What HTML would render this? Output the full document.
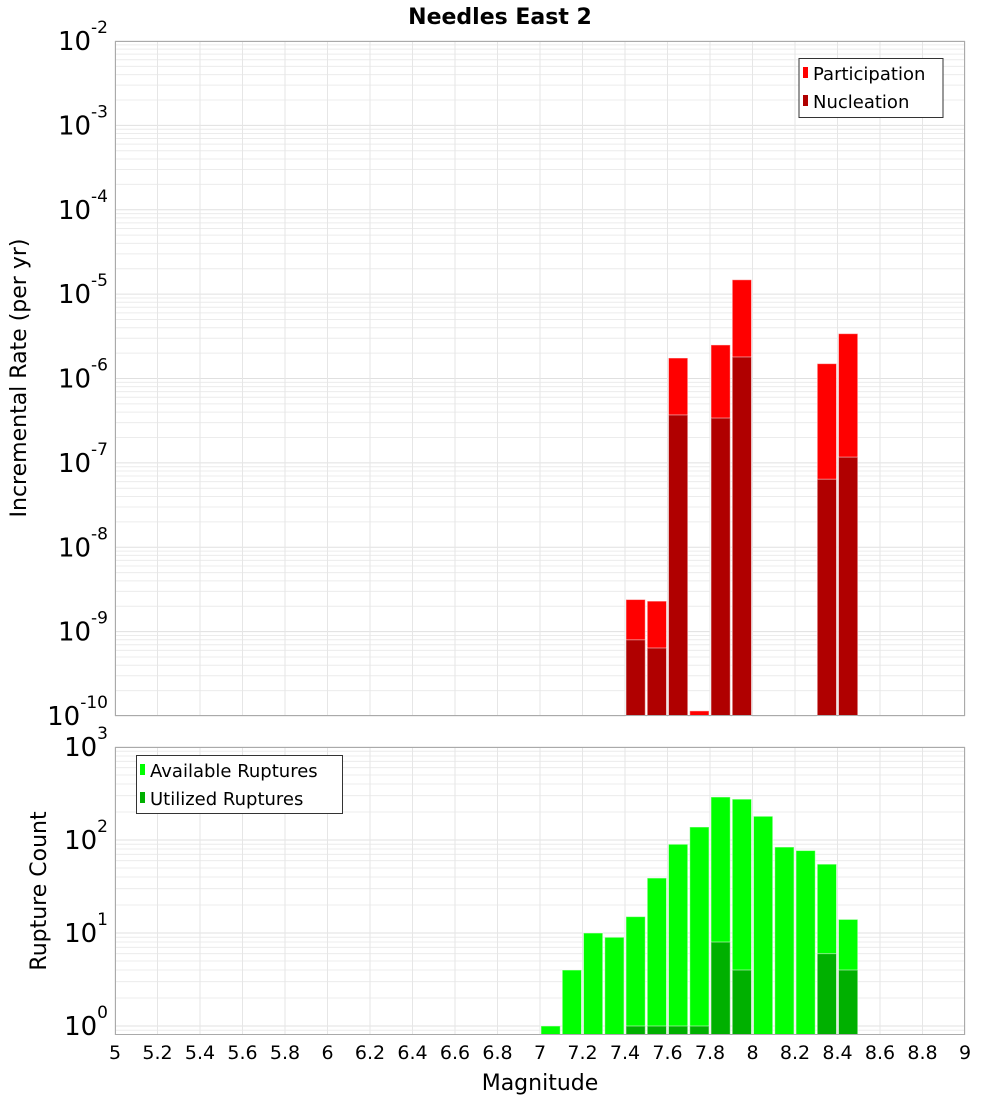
<!DOCTYPE html>
<html><head><meta charset="utf-8"><style>
html,body{margin:0;padding:0;background:#fff;}
svg{display:block;font-family:"DejaVu Sans","Liberation Sans",sans-serif;}
</style></head><body>
<svg id="chart" width="1000" height="1100" viewBox="0 0 1000 1100" xmlns="http://www.w3.org/2000/svg">
<text x="500" y="24" text-anchor="middle" font-size="22" font-weight="bold">Needles East 2</text>
<g id="topPanel"></g>
<g id="botPanel"></g>
<text transform="translate(26,378) rotate(-90)" text-anchor="middle" font-size="22">Incremental Rate (per yr)</text>
<text transform="translate(46,891) rotate(-90)" text-anchor="middle" font-size="22">Rupture Count</text>
<text x="540" y="1090" text-anchor="middle" font-size="22">Magnitude</text>
<g>
<rect x="799" y="58.5" width="144" height="59" fill="#fff" stroke="#333" stroke-width="1"/>
<rect x="803" y="67" width="5" height="11" fill="#ff0000"/>
<text x="813" y="80" font-size="18">Participation</text>
<rect x="803" y="95" width="5" height="11" fill="#b00000"/>
<text x="813" y="108" font-size="18">Nucleation</text>
</g>
<g>
<rect x="136.5" y="755.5" width="206" height="58" fill="#fff" stroke="#333" stroke-width="1"/>
<rect x="140" y="764" width="5" height="11" fill="#00ff00"/>
<text x="150" y="777" font-size="18">Available Ruptures</text>
<rect x="140" y="792" width="5" height="11" fill="#00b000"/>
<text x="150" y="805" font-size="18">Utilized Ruptures</text>
</g>
</svg>
<script>
const binStarts = [7.0,7.1,7.2,7.3,7.4,7.5,7.6,7.7,7.8,7.9,8.0,8.1,8.2,8.3,8.4];
const available = [1,4,10,9,15,39,90,138,290,275,180,84,77,55,14];
const utilized  = [0,0,0,0,1,1,1,1,8,4,0,0,0,6,4];
const rateBins = [7.4,7.5,7.6,7.7,7.8,7.9,8.3,8.4];
const participation = [2.4e-9,2.3e-9,1.75e-6,1.15e-10,2.5e-6,1.48e-5,1.5e-6,3.4e-6];
const nucleation    = [8e-10,6.4e-10,3.7e-7,0,3.4e-7,1.8e-6,6.4e-8,1.17e-7];
const xTicks = [5,5.2,5.4,5.6,5.8,6,6.2,6.4,6.6,6.8,7,7.2,7.4,7.6,7.8,8,8.2,8.4,8.6,8.8,9];
const topExps = [-2,-3,-4,-5,-6,-7,-8,-9,-10];
const botExps = [0,1,2,3];

const NS="http://www.w3.org/2000/svg";
const X0=115,X1=965;
const xs=m=>X0+(m-5)*(X1-X0)/4;
const yTop=v=>41+(-2-Math.log10(v))*84.375;
const yBot=v=>1026-93*Math.log10(v);
function mk(parent,tag,attrs){const e=document.createElementNS(NS,tag);for(const k in attrs)e.setAttribute(k,attrs[k]);parent.appendChild(e);return e;}

function panel(g,yT,yB,yf,loLog,hiLog){
  for(let d=Math.floor(loLog);d<=hiLog;d++){
    for(let k=1;k<10;k++){
      const v=k*Math.pow(10,d);const y=yf(v);
      if(y<yT||y>yB)continue;
      const l=mk(g,'line',{x1:X0,x2:X1,y1:y,y2:y,stroke:k===1?'#e0e0e0':'#ececec','stroke-width':1});
      
      
    }
  }
  xTicks.forEach(t=>{const x=xs(t);
    const l=mk(g,'line',{x1:x,x2:x,y1:yT,y2:yB,stroke:'#e6e6e6','stroke-width':1});
    
    
  });
}
function frame(g,yT,yB){
  const r=mk(g,'rect',{x:X0+0.5,y:yT+0.5,width:X1-X0-1,height:yB-yT-1,fill:'none',stroke:'#aaaaaa','stroke-width':1});
  
  
}
function bar(g,m,v,yf,yB,color,name){
  if(!(v>0))return;
  const x=xs(m)+1,w=xs(m+0.1)-xs(m)-2,y=Math.max(yf(v),0);
  const r=mk(g,'rect',{x:x,y:y,width:w,height:yB-y,fill:color,stroke:'#ffffff','stroke-opacity':0.5,'stroke-width':1});
  
  
}
function ylabel(parent,y,exp){
  const t=mk(parent,'text',{x:108,y:y+9,'text-anchor':'end','font-size':26});
  
  
  const a=document.createElementNS(NS,'tspan');a.textContent='10';t.appendChild(a);
  const b=document.createElementNS(NS,'tspan');b.setAttribute('dy','-17');b.setAttribute('font-size','17');b.textContent=String(exp);t.appendChild(b);
}

const topG=document.getElementById('topPanel');
panel(topG,41,716,yTop,-10,-2);
rateBins.forEach((m,i)=>{
  bar(topG,m,participation[i],yTop,716,'#ff0000','participation-bar');
  bar(topG,m,nucleation[i],yTop,716,'#b00000','nucleation-bar');
});
frame(topG,41,716);
topExps.forEach(e=>ylabel(topG,yTop(Math.pow(10,e)),e));

const botG=document.getElementById('botPanel');
panel(botG,747,1035,yBot,-1,3);
binStarts.forEach((m,i)=>{
  bar(botG,m,available[i],yBot,1035,'#00ff00','available-bar');
  bar(botG,m,utilized[i],yBot,1035,'#00b000','utilized-bar');
});
frame(botG,747,1035);
botExps.forEach(e=>ylabel(botG,yBot(Math.pow(10,e)),e));

xTicks.forEach(t=>{
  const tx=mk(botG,'text',{x:xs(t),y:1059,'text-anchor':'middle','font-size':19});
  
  
  tx.textContent=String(t);
});
</script>
</body></html>
